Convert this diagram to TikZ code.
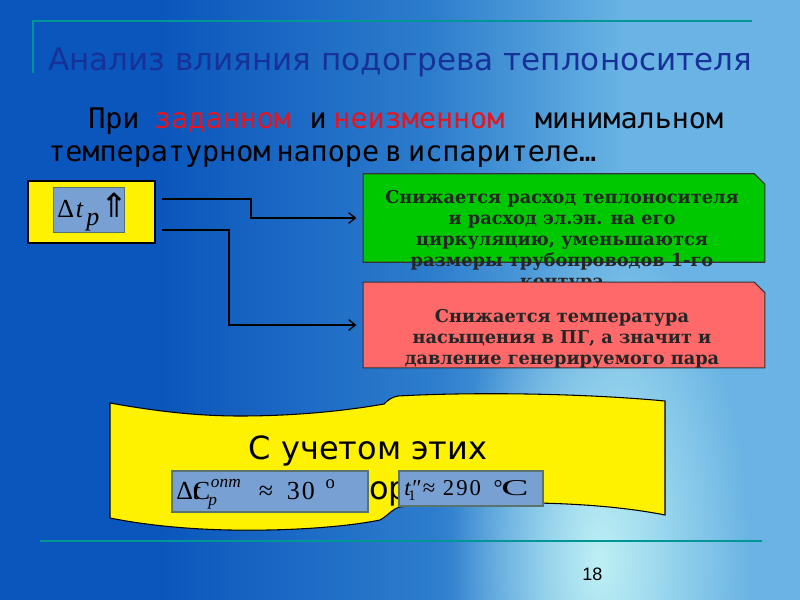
\documentclass[tikz,border=0pt]{standalone}
\usepackage{fontspec}
\usepackage{graphicx}
\setmainfont{Liberation Serif}
\newfontfamily\titlefont{DejaVu Sans}
\newfontfamily\monofont{DejaVu Sans Mono}
\newfontfamily\boxfont{DejaVu Serif}
\newfontfamily\symfont{DejaVu Sans}
\newfontfamily\pagefont{Liberation Sans}
\usetikzlibrary{arrows.meta,fadings}

\definecolor{bgdark}{RGB}{10,86,188}
\definecolor{bgmid}{RGB}{45,125,205}
\definecolor{bglight}{RGB}{105,180,228}
\definecolor{bgright}{RGB}{55,135,208}
\definecolor{glow}{RGB}{190,240,245}
\definecolor{rule}{RGB}{0,150,150}
\definecolor{titleblue}{RGB}{22,50,152}
\definecolor{hotred}{RGB}{230,20,30}
\definecolor{boxgreen}{RGB}{0,200,0}
\definecolor{boxred}{RGB}{255,105,105}
\definecolor{fmlblue}{RGB}{120,160,210}
\definecolor{fmledge}{RGB}{90,115,110}

\pgfdeclarehorizontalshading{slidebg}{100bp}{color(0bp)=(bgdark); color(35bp)=(bgdark);
  color(52bp)=(bgmid); color(64bp)=(bglight); color(76bp)=(bglight); color(100bp)=(bgright)}
\tikzfading[name=glowfade, inner color=transparent!0, outer color=transparent!100]

\begin{document}
\begin{tikzpicture}[x=0.75pt,y=-0.75pt,
  link/.style={line width=2pt,-{Straight Barb[length=5pt,width=8pt,line width=1pt]},shorten >=5pt},
  fml/.style={fill=fmlblue,draw=fmledge,line width=0.8pt},
  bold box/.style={font=\boxfont\bfseries\fontsize{13.3}{15.8}\selectfont,align=center,text=black!85},
  subline/.style={anchor=base west,inner sep=0,font=\monofont\fontsize{21.3}{24}\selectfont}]

\useasboundingbox (0,0) rectangle (800,600);

%background
\shade[shading=slidebg] (0,0) rectangle (800,600);
\fill[glow,path fading=glowfade] (600,560) ellipse (150 and 330);

%rules
\draw[rule,line width=1.6pt] (33,73) -- (33,21) -- (752,21);
\draw[rule,line width=1.6pt] (40,541) -- (762,541);

%title
\node[anchor=base west,inner sep=0,text=titleblue,
  font=\titlefont\fontsize{23.3}{27}\selectfont] (title) at (48,70)
  {Анализ влияния подогрева теплоносителя};

%subtitle
\node[subline] (sub1) at (88,128)
  {При\hspace{11pt}\textcolor{hotred}{заданном}\hspace{14pt}и\hspace{5pt}%
   \textcolor{hotred}{неизменном}\hspace{23pt}минимальном};
\node[subline] (sub2) at (48,161)
  {температурном\hspace{4.5pt}напоре\hspace{4.5pt}в\hspace{4.5pt}испарителе…};

%delta t box
\draw[fill=yellow,line width=1pt] (28,181) rectangle (155,243);
\node[fml,minimum width=53pt,minimum height=34pt,inner sep=0] (dtbox) at (89,210) {};
\node[anchor=base west,inner sep=0,font=\fontsize{19.5}{20}\selectfont] (dt) at (57,217)
  {Δ\hspace{1.5pt}\textit{t}\hspace{2pt}\raisebox{-6pt}{\textit{p}}\hspace{1pt}{\symfont\fontsize{25}{25}\selectfont ⇑}};

%green and red boxes
\node[minimum width=301pt,minimum height=66pt,inner sep=0] (green) at (564,218) {};
\draw[fill=boxgreen,draw=black!80,line width=0.8pt]
  (green.south west) -- (green.north west) -- ([xshift=-8pt]green.north east)
  -- ([yshift=-8pt]green.north east) -- (green.south east) -- cycle;
\node[bold box,anchor=north,inner sep=0] (greentext) at (562,190)
  {Снижается расход теплоносителя\\и расход эл.эн. на его\\циркуляцию, уменьшаются\\
   размеры трубопроводов 1-го\\контура};

\node[minimum width=301pt,minimum height=64pt,inner sep=0] (red) at (564,325) {};
\draw[fill=boxred,draw=black!80,line width=0.8pt]
  (red.south west) -- (red.north west) -- ([xshift=-8pt]red.north east)
  -- ([yshift=-8pt]red.north east) -- (red.south east) -- cycle;
\node[bold box,anchor=north,inner sep=0] (redtext) at (562,309)
  {Снижается температура\\насыщения в ПГ, а значит и\\давление генерируемого пара};

%connectors
\coordinate (s1) at (162,199);
\coordinate (k1) at (251,199);
\coordinate (s2) at (162,230);
\coordinate (k2) at (229,230);
\draw[link] (s1) -- (k1) |- (green.west);
\draw[link] (s2) -- (k2) |- (red.west);

%wave banner
\draw[fill=yellow,line width=0.8pt]
  (110,403) .. controls (160,412) and (200,416) .. (240,416)
  .. controls (300,416) and (350,410) .. (384,404)
  .. controls (388,400) and (392,397) .. (398,396)
  .. controls (470,392) and (580,393) .. (665,401)
  -- (665,515)
  .. controls (620,506) and (560,502) .. (500,503)
  .. controls (460,503) and (420,504) .. (400,507)
  .. controls (392,509) and (390,514) .. (380,520)
  .. controls (340,528) and (280,531) .. (230,530)
  .. controls (180,529) and (140,524) .. (110,518) -- cycle;

\node[anchor=base,inner sep=0,font=\titlefont\fontsize{24}{28}\selectfont] (ban1) at (368,459)
  {С учетом этих};
\node[anchor=base,inner sep=0,font=\titlefont\fontsize{24}{28}\selectfont] (ban2) at (366,499)
  {факторов};

%formula boxes
\draw[fml] (172,471) rectangle (368,512);
\node[anchor=base west,inner sep=0,font=\fontsize{19.5}{20}\selectfont] (f1) at (176,499)
  {\rlap{Δ\textit{t}}\rlap{\hspace{12.5pt}C}%
   \rlap{\hspace{24pt}\raisebox{-5pt}{\fontsize{13}{14}\selectfont\textit{p}}}%
   \rlap{\hspace{26pt}\raisebox{9pt}{\fontsize{13}{14}\selectfont\textit{опт}}}%
   \rlap{\hspace{62pt}≈}\rlap{\hspace{83pt}3\kern1.5pt0}%
   \hspace{112pt}\raisebox{8pt}{\fontsize{14}{14}\selectfont o}};

\draw[fml] (399,471) rectangle (543,506);
\node[anchor=base west,inner sep=0,font=\fontsize{17}{18}\selectfont] (f2) at (404,495)
  {\rlap{\textit{t}}\rlap{\hspace{3pt}\raisebox{-4pt}{\fontsize{11}{12}\selectfont 1}}%
   \rlap{\hspace{6pt}″}\rlap{\hspace{14pt}≈}\rlap{\hspace{29pt}2\kern1.5pt9\kern1.5pt0}%
   \hspace{67pt}°\kern-1pt\scalebox{1.8}[1]{C}};

%page number
\node[anchor=base west,inner sep=0,font=\pagefont\fontsize{13.5}{14}\selectfont] (page) at (582,580) {18};

\end{tikzpicture}
\end{document}
